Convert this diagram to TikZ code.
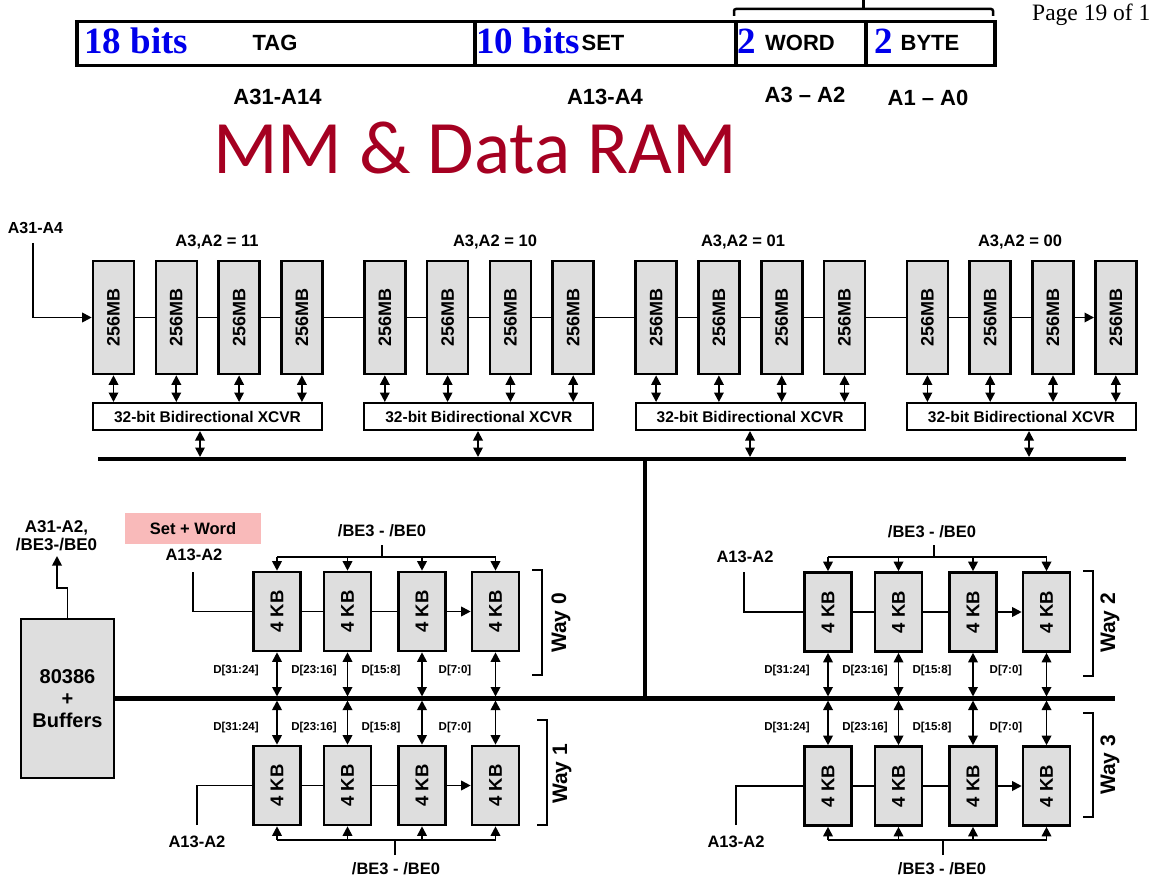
\documentclass[tikz,border=0pt]{standalone}
\usepackage{fontspec}
\usepackage{graphicx}
\setmainfont{Liberation Sans}
\newfontfamily\tnrfont{Liberation Serif}
\newfontfamily\titlefont{Carlito}
\usetikzlibrary{arrows.meta,backgrounds}
\definecolor{titlered}{RGB}{165,0,33}
\definecolor{boxgray}{RGB}{222,222,222}
\definecolor{setpink}{RGB}{249,186,186}
\definecolor{bitblue}{RGB}{0,0,235}
\tikzset{
  mbox/.style={draw, line width=2.6pt, fill=boxgray, minimum width=41pt, minimum height=113pt, inner sep=0pt, font=\fontsize{18}{20}\selectfont\bfseries},
  kbox/.style={draw, line width=2.6pt, fill=boxgray, minimum width=47pt, minimum height=79pt, inner sep=0pt, font=\fontsize{18.5}{20}\selectfont\bfseries},
  xbox/.style={draw, line width=2pt, fill=white, minimum width=229pt, minimum height=27pt, inner sep=0pt, font=\fontsize{15.5}{17}\selectfont\bfseries},
  cpubox/.style={draw, line width=2.6pt, fill=boxgray, minimum width=93pt, minimum height=159pt, align=center, inner sep=0pt, font=\fontsize{20}{22}\selectfont\bfseries},
  wire/.style={line width=1.8pt},
  dbl/.style={line width=1.8pt, <->},
  arr/.style={line width=1.8pt, ->},
  bus/.style={line width=4.5pt},
  lbl/.style={font=\fontsize{16.5}{18}\selectfont\bfseries, inner sep=0pt},
  dlbl/.style={font=\fontsize{11.5}{13}\selectfont\bfseries, inner sep=0pt},
  waylbl/.style={rotate=90, font=\fontsize{21}{23}\selectfont\bfseries, inner sep=0pt},
  bitlbl/.style={font=\tnrfont\fontsize{37}{40}\selectfont\bfseries, text=bitblue, inner sep=0pt, anchor=base west},
  fldlbl/.style={font=\fontsize{22}{24}\selectfont\bfseries, inner sep=0pt, anchor=base},
  field/.style={draw, line width=3.5pt, minimum height=44pt, inner sep=0pt, anchor=north west},
}
\begin{document}
\begin{tikzpicture}[x=1pt,y=-1pt,>={Triangle[length=9.5pt,width=9.5pt]}]
\useasboundingbox (0,0) rectangle (1153,885);

% ---------- address format bar ----------
\node[field, minimum width=398pt] (ftag) at (75,20) {};
\node[field, minimum width=261pt] (fset) at (473,20) {};
\node[field, minimum width=130pt] (fword) at (734,20) {};
\node[field, minimum width=129pt] (fbyte) at (864,20) {};
\node[bitlbl] (b18) at (84,54) {18 bits};
\node[fldlbl] (tag) at (275,50.5) {TAG};
\node[bitlbl] (b10) at (476,54) {10 bits};
\node[fldlbl] (set) at (603,50.5) {SET};
\node[bitlbl] (b2a) at (737,54) {2};
\node[fldlbl] (word) at (800,50.5) {WORD};
\node[bitlbl] (b2b) at (874,54) {2};
\node[fldlbl] (byte) at (930,50.5) {BYTE};
\draw[line width=2.5pt, rounded corners=2pt] (734,16) -- (734,9) -- (993,9) -- (993,16);
\draw[line width=2.5pt] (863.5,9) -- (863.5,0);
\node[font=\tnrfont\fontsize{23.5}{26}\selectfont, anchor=base west, inner sep=0pt] (page) at (1032,21) {Page 19 of 1};

\node[font=\fontsize{22}{24}\selectfont\bfseries, inner sep=0pt] (a3114) at (277.5,97) {A31-A14};
\node[font=\fontsize{22}{24}\selectfont\bfseries, inner sep=0pt] (a134) at (605,97) {A13-A4};
\node[font=\fontsize{22}{24}\selectfont\bfseries, inner sep=0pt] (a32) at (805,95) {A3 -- A2};
\node[font=\fontsize{22}{24}\selectfont\bfseries, inner sep=0pt] (a10) at (928,98) {A1 -- A0};

\node[font=\titlefont\fontsize{75.5}{82}\selectfont, text=titlered, anchor=base, inner sep=0pt] (title) at (475,174) {MM \& Data RAM};

% ---------- main memory ----------
\foreach \g in {0,...,3}{
  \foreach \i in {0,...,3}{
    \node[mbox] (m\g\i) at ({113.5+271.3*\g+62.8*\i},317.5) {\rotatebox{90}{256MB}};
  }
  \node[xbox] (x\g) at ({207.5+271.3*\g},416.5) {32-bit Bidirectional XCVR};
  \foreach \i in {0,...,3}{
    \draw[dbl] (m\g\i.south) -- (m\g\i.south |- x\g.north);
  }
}
\begin{scope}[on background layer]
  \draw[wire] (m00) -- (m32);
\end{scope}
\draw[arr] (m32.east) -- (m33.west);

\node[font=\fontsize{16}{18}\selectfont\bfseries, inner sep=0pt] (a314) at (35.5,228) {A31-A4};
\coordinate (in) at (33,243);
\draw[arr] (in) |- (m00.west);

\node[lbl] (g0) at (217,242) {A3,A2 = 11};
\node[lbl] (g1) at (495,242) {A3,A2 = 10};
\node[lbl] (g2) at (743,242) {A3,A2 = 01};
\node[lbl] (g3) at (1020,242) {A3,A2 = 00};

\coordinate (busL) at (98,459);
\coordinate (busR) at (1126,459);
\draw[bus] (busL) -- (busR);
\foreach \g/\xx in {0/200,1/478,2/750,3/1029}{
  \coordinate (bx\g) at (\xx,459);
  \draw[dbl, shorten >=2pt] (bx\g |- x\g.south) -- (bx\g);
}
\coordinate (vtop) at (645,459);
\coordinate (vbot) at (645,698.5);
\draw[bus] (vtop) -- (vbot);

% ---------- processor ----------
\node[cpubox] (cpu) at (67.5,698.5) {80386\\+\\Buffers};
\coordinate (lbusR) at (1115,698.5);
\draw[bus] (cpu.east) -- (lbusR);
\coordinate (cpuout) at (57,556);
\draw[arr] (cpu.north) -- ++(0,-30) -| (cpuout);
\node[font=\fontsize{17}{18}\selectfont\bfseries, align=center, inner sep=0pt] (cpulbl) at (56.5,536) {A31-A2,\\/BE3-/BE0};

\node[fill=setpink, minimum width=136pt, minimum height=31pt, inner sep=0pt, font=\fontsize{16.5}{18}\selectfont\bfseries] (sw) at (193,528.5) {Set + Word};

% ---------- cache ways ----------
\foreach \i/\xx in {0/277,1/347.5,2/422,3/495.5}{
  \node[kbox] (w0\i) at (\xx,611.5) {\rotatebox{90}{4 KB}};
  \node[kbox] (w1\i) at (\xx,785.5) {\rotatebox{90}{4 KB}};
  \node[kbox] (w2\i) at (\xx+551,612) {\rotatebox{90}{4 KB}};
  \node[kbox] (w3\i) at (\xx+551,786) {\rotatebox{90}{4 KB}};
}
\begin{scope}[on background layer]
  \foreach \w in {0,...,3}{
    \draw[wire] (w\w0) -- (w\w2);
  }
\end{scope}
\foreach \w in {0,...,3}{
  \draw[arr] (w\w2.east) -- (w\w3.west);
}
\coordinate (lbus) at (115,698.5);
\foreach \i in {0,...,3}{
  \foreach \u/\l in {0/1,2/3}{
    \draw[dbl, shorten >=2pt] (w\u\i.south) -- (w\u\i.south |- lbus);
    \draw[dbl, shorten <=2pt] (w\l\i.north |- lbus) -- (w\l\i.north);
  }
}
% data labels
\foreach \xx/\t in {236/{D[31:24]},314/{D[23:16]},381/{D[15:8]},455/{D[7:0]}}{
  \node[dlbl] at (\xx,671) {\t};
  \node[dlbl] at (\xx,728) {\t};
  \node[dlbl] at (\xx+551,671) {\t};
  \node[dlbl] at (\xx+551,728) {\t};
}

% byte enables
\foreach \w/\yy/\sx/\sy/\lx/\ly in {0/557/382/545/382/531, 2/557/934/545/932/532, 1/840/395/855/396/869, 3/840/943/855/942/869}{
  \coordinate (be\w) at (\sx,\yy);
  \coordinate (bes\w) at (\sx,\sy);
  \node[lbl] (bel\w) at (\lx,\ly) {/BE3 - /BE0};
  \draw[wire] (bes\w) -- (be\w);
  \draw[wire] (w\w0.center |- be\w) -- (w\w3.center |- be\w);
}
\foreach \i in {0,...,3}{
  \draw[arr] (w0\i.north |- be0) -- (w0\i.north);
  \draw[arr] (w2\i.north |- be2) -- (w2\i.north);
  \draw[arr] (w1\i.south |- be1) -- (w1\i.south);
  \draw[arr] (w3\i.south |- be3) -- (w3\i.south);
}

% A13-A2 inputs
\coordinate (ad0) at (193,572);
\coordinate (ad1) at (197,825);
\coordinate (ad2) at (744,572);
\coordinate (ad3) at (736,825);
\foreach \w in {0,...,3}{ \draw[wire] (ad\w) |- (w\w0.west); }
\node[lbl] (al0) at (194,555) {A13-A2};
\node[lbl] (al1) at (197,842) {A13-A2};
\node[lbl] (al2) at (745,557) {A13-A2};
\node[lbl] (al3) at (736,842) {A13-A2};

% way brackets
\draw[wire] (532,570) -- (542,570) -- (542,675) -- (532,675);
\draw[wire] (537,720) -- (547,720) -- (547,825) -- (537,825);
\draw[wire] (1083,571) -- (1093,571) -- (1093,676) -- (1083,676);
\draw[wire] (1083,713) -- (1093,713) -- (1093,817) -- (1083,817);
\node[waylbl] (way0) at (561,623) {Way 0};
\node[waylbl] (way1) at (562,774) {Way 1};
\node[waylbl] (way2) at (1110,623) {Way 2};
\node[waylbl] (way3) at (1110,765) {Way 3};
\end{tikzpicture}
\end{document}
